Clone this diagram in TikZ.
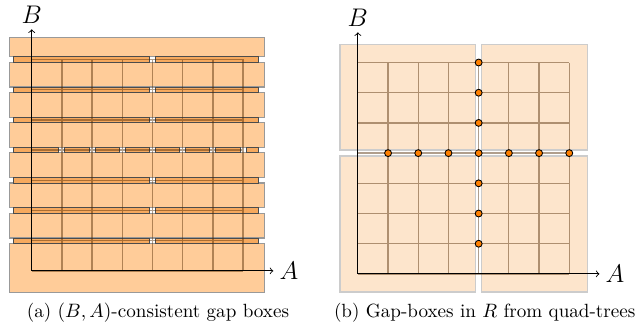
\documentclass[tikz,border=0pt]{standalone}
\usepackage{tikz}

\definecolor{boxfill}{HTML}{FFCC99}
\definecolor{stripfill}{HTML}{F6A95E}
\definecolor{quadfill}{HTML}{FDE5CC}
\definecolor{dotfill}{HTML}{FF8000}
\definecolor{gridbrown}{RGB}{80,40,0}

\tikzset{
    gapbox/.style={fill=boxfill, draw=black!40, line width=0.6pt},
    gapstrip/.style={fill=stripfill, draw=black!70, line width=0.5pt},
    quadbox/.style={fill=quadfill, draw=black!20, line width=0.9pt},
    gridline/.style={draw=gridbrown, opacity=0.45, line width=0.7pt, step=1},
    axisline/.style={->, line width=0.5pt},
    axislabel/.style={font=\fontsize{14}{16}\selectfont},
    caption/.style={font=\fontsize{10.8}{13}\selectfont},
    gapdot/.style={circle, fill=dotfill, draw=black, line width=0.5pt, inner sep=0pt, minimum size=3.9pt}
}

\begin{document}
\begin{tikzpicture}[x=0.6cm, y=0.6cm]
    \useasboundingbox (-1.05,-1.99) rectangle (20.01,8.97);

    % (a) boxes between the rows
    \draw[gapbox] (-0.72,7.09) rectangle (7.72,7.72);
    \foreach \k in {1,...,6}
        \draw[gapbox] (-0.72,\k+0.09) rectangle (7.72,\k+0.91);
    \draw[gapbox] (-0.72,-0.72) rectangle (7.72,0.91);
    % gap strips on the rows
    \foreach \k in {1,2,3,5,6,7} {
        \draw[gapstrip] (-0.61,\k-0.09) rectangle (3.9,\k+0.09);
        \draw[gapstrip] (4.1,\k-0.09) rectangle (7.5,\k+0.09);
    }
    \draw[gapstrip] (-0.61,3.91) rectangle (0.9,4.09);
    \foreach \i in {1,...,6}
        \draw[gapstrip] (\i+0.1,3.91) rectangle (\i+0.9,4.09);
    \draw[gapstrip] (7.1,3.91) rectangle (7.5,4.09);
    \draw[gridline] (0,0) grid (7,7);
    \coordinate (oa) at (0,0);
    \coordinate (ea) at (8,0);
    \coordinate (eb) at (0,8);
    \draw[axisline] (oa) -- (ea);
    \draw[axisline] (oa) -- (eb);
    \node[axislabel, anchor=west] (la) at (ea) {$A$};
    \node[axislabel, anchor=south] (lb) at (eb) {$B$};
    \node[caption] (capa) at (4.18,-1.39) {(a) $(B,A)$-consistent gap boxes};

    % (b) quad-tree boxes
    \begin{scope}[shift={(10.8,-0.1)}]
        \draw[quadbox] (-0.6,4.1) rectangle (3.9,7.6);
        \draw[quadbox] (4.1,4.1) rectangle (7.6,7.6);
        \draw[quadbox] (-0.6,-0.6) rectangle (3.9,3.9);
        \draw[quadbox] (4.1,-0.6) rectangle (7.6,3.9);
        \draw[gridline] (0,0) grid (7,7);
        \coordinate (ob) at (0,0);
        \coordinate (fa) at (8,0);
        \coordinate (fb) at (0,8);
        \draw[axisline] (ob) -- (fa);
        \draw[axisline] (ob) -- (fb);
        \node[axislabel, anchor=west] (ma) at (fa) {$A$};
        \node[axislabel, anchor=south] (mb) at (fb) {$B$};
        \foreach \k in {1,...,7}
            \node[gapdot] (dv\k) at (4,\k) {};
        \foreach \k in {1,2,3,5,6,7}
            \node[gapdot] (dh\k) at (\k,4) {};
        \node[caption] (capb) at (4.2,-1.29) {(b) Gap-boxes in $R$ from quad-trees};
    \end{scope}
\end{tikzpicture}
\end{document}
